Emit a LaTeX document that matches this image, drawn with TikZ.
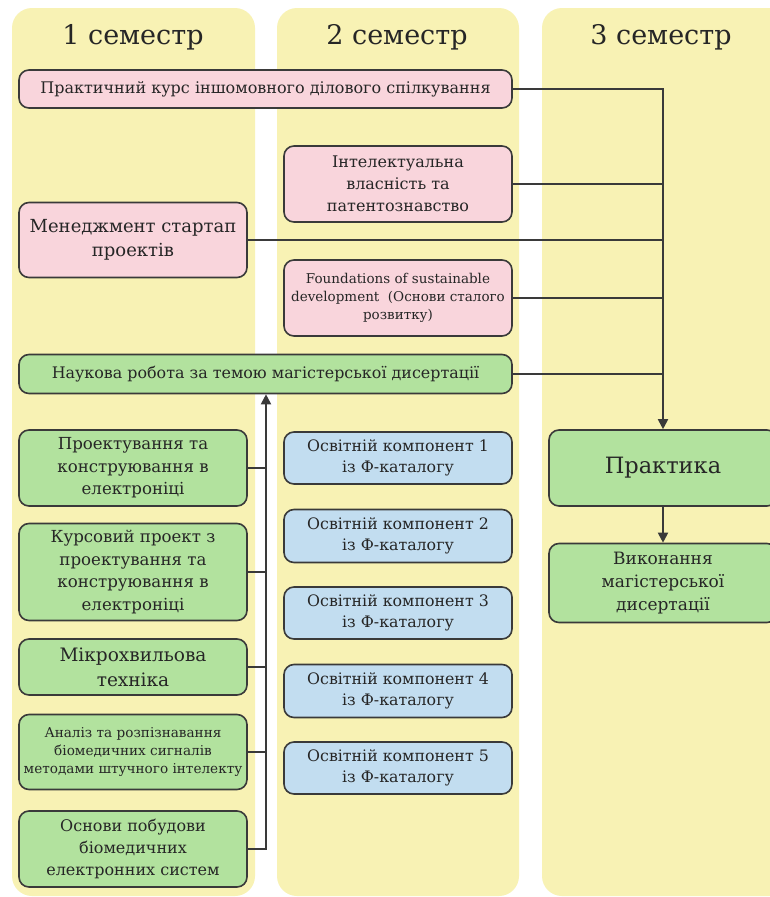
\documentclass[tikz,border=0pt]{standalone}
\usepackage{fontspec}
\setmainfont{DejaVu Serif}
\usetikzlibrary{arrows.meta}
\definecolor{colbg}{HTML}{F8F2B4}
\definecolor{pinkc}{HTML}{F9D5DC}
\definecolor{greenc}{HTML}{B2E29E}
\definecolor{bluec}{HTML}{C2DDF0}
\definecolor{edgec}{HTML}{3A3A3A}
\definecolor{txtc}{HTML}{262626}
\newcommand{\fs}[1]{\fontsize{#1}{1.36\dimexpr#1pt\relax}\selectfont}
\tikzset{
  colbox/.style={fill=colbg, draw=none, rounded corners=20pt},
  box/.style={draw=edgec, line width=1.6pt, rounded corners=10pt, inner sep=0pt, align=center, text=txtc, minimum width=228pt},
  pinkbox/.style={box, fill=pinkc},
  greenbox/.style={box, fill=greenc},
  bluebox/.style={box, fill=bluec},
  conn/.style={draw=edgec, line width=1.8pt},
  arr/.style={conn, -{Triangle[length=10pt,width=10pt]}},
  head/.style={text=txtc, font=\fs{27}}
}
\begin{document}
\begin{tikzpicture}[x=1pt,y=-1pt]
\useasboundingbox (0,0) rectangle (769,897);
\fill[white] (0,0) rectangle (769,897);
% columns
\path[colbox] (12,8) rectangle (255,896);
\path[colbox] (277,8) rectangle (519,896);
\path[colbox] (542,8) rectangle (800,896);
\node[head] (h1) at (133,37) {1 семестр};
\node[head] (h2) at (397,37) {2 семестр};
\node[head] (h3) at (661,37) {3 семестр};
% semester 1 / wide boxes
\node[pinkbox, minimum width=493pt, minimum height=38pt, font=\fs{16}] (prak) at (265.5,89) {Практичний курс іншомовного ділового спілкування};
\node[pinkbox, minimum height=75pt, font=\fs{18}] (men) at (133,240) {Менеджмент стартап\\проектів};
\node[greenbox, minimum width=493pt, minimum height=39pt, font=\fs{15.9}] (nauk) at (265.5,374) {Наукова робота за темою магістерської дисертації};
\node[greenbox, minimum height=76pt, font=\fs{16.6}] (proekt) at (133,468) {Проектування та\\конструювання в\\електроніці};
\node[greenbox, minimum height=97pt, font=\fs{16.6}] (kurs) at (133,572) {Курсовий проект з\\проектування та\\конструювання в\\електроніці};
\node[greenbox, minimum height=56pt, font=\fs{18.5}] (mikro) at (133,667) {Мікрохвильова\\техніка};
\node[greenbox, minimum height=75pt, font=\fs{13.6}] (anal) at (133,752) {Аналіз та розпізнавання\\біомедичних сигналів\\методами штучного інтелекту};
\node[greenbox, minimum height=76pt, font=\fs{16}] (osn) at (133,849) {Основи побудови\\біомедичних\\електронних систем};
% semester 2
\node[pinkbox, minimum height=76pt, font=\fs{16}] (intel) at (398,184) {Інтелектуальна\\власність та\\патентознавство};
\node[pinkbox, minimum height=76pt, font=\fs{13.5}] (found) at (398,298) {Foundations of sustainable\\development~ (Основи сталого\\розвитку)};
\node[bluebox, minimum height=52pt, font=\fs{15.8}] (b1) at (398,458) {Освітній компонент 1\\із Ф-каталогу};
\node[bluebox, minimum height=53pt, font=\fs{15.8}] (b2) at (398,536) {Освітній компонент 2\\із Ф-каталогу};
\node[bluebox, minimum height=52pt, font=\fs{15.8}] (b3) at (398,613) {Освітній компонент 3\\із Ф-каталогу};
\node[bluebox, minimum height=53pt, font=\fs{15.8}] (b4) at (398,691) {Освітній компонент 4\\із Ф-каталогу};
\node[bluebox, minimum height=52pt, font=\fs{15.8}] (b5) at (398,768) {Освітній компонент 5\\із Ф-каталогу};
% semester 3
\node[greenbox, minimum height=76pt, font=\fs{22.5}] (prakt) at (663,468) {Практика};
\node[greenbox, minimum height=79pt, font=\fs{17}] (vyk) at (663,583) {Виконання\\магістерської\\дисертації};
% right bus
\draw[arr] (prak.east) -| (prakt.north);
\draw[conn] (intel.east) -- (intel.east -| prakt.north);
\draw[conn] (men.east) -- (men.east -| prakt.north);
\draw[conn] (found.east) -- (found.east -| prakt.north);
\draw[conn] (nauk.east) -- (nauk.east -| prakt.north);
\draw[arr] (prakt.south) -- (vyk.north);
% left bus
\coordinate (bx) at (266,0);
\draw[arr] (osn.east) -| (nauk.south -| bx);
\draw[conn] (proekt.east) -- (proekt.east -| bx);
\draw[conn] (kurs.east) -- (kurs.east -| bx);
\draw[conn] (mikro.east) -- (mikro.east -| bx);
\draw[conn] (anal.east) -- (anal.east -| bx);
\end{tikzpicture}
\end{document}
